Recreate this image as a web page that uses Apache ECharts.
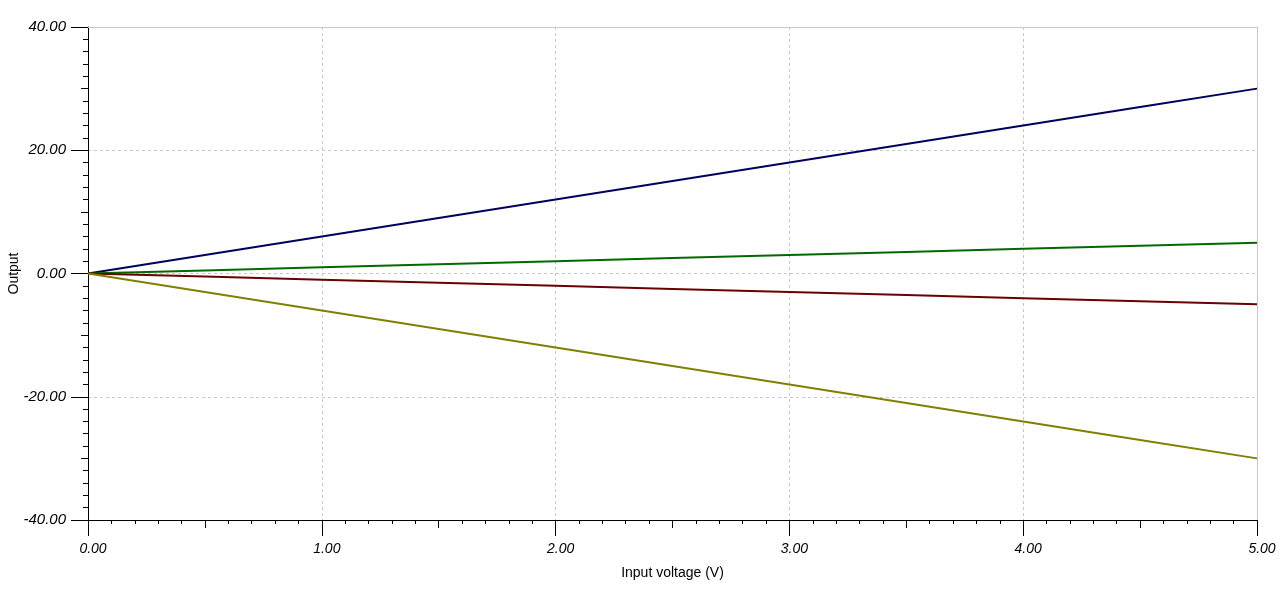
<!DOCTYPE html>
<html>
<head>
<meta charset="utf-8">
<script src="https://cdn.jsdelivr.net/npm/echarts@6/dist/echarts.min.js"></script>
<style>
    html, body { margin: 0; padding: 0; background: #fff; }
    #main { width: 1280px; height: 590px; }
</style>
</head>
<body>
<div id="main"></div>
<script>
// input voltage samples (V)
var inputVoltage = [0, 0.5, 1, 1.5, 2, 2.5, 3, 3.5, 4, 4.5, 5];

// outputs
var outBlue   = [0, 3, 6, 9, 12, 15, 18, 21, 24, 27, 30];
var outGreen  = [0, 0.5, 1, 1.5, 2, 2.5, 3, 3.5, 4, 4.5, 5];
var outRed    = [0, -0.5, -1, -1.5, -2, -2.5, -3, -3.5, -4, -4.5, -5];
var outOlive  = [0, -3, -6, -9, -12, -15, -18, -21, -24, -27, -30];

var xTicks = [0, 1, 2, 3, 4, 5];
var yTicks = [-40, -20, 0, 20, 40];

function pairs(ys) {
    var res = [];
    for (var i = 0; i < inputVoltage.length; i++) {
        res.push([inputVoltage[i], ys[i]]);
    }
    return res;
}

function line(name, ys, color) {
    return {
        name: name,
        type: 'line',
        data: pairs(ys),
        showSymbol: false,
        symbol: 'none',
        lineStyle: { color: color, width: 2 },
        xAxisIndex: 0,
        yAxisIndex: 0
    };
}

var labelFont = 'Liberation Sans, Arial, sans-serif';

var myChart = echarts.init(document.getElementById('main'));
var option = {
    animation: false,
    backgroundColor: '#fff',
    grid: { left: 88, right: 23, top: 27, bottom: 70, containLabel: false, outerBoundsMode: 'none' },
    xAxis: [
        {
            type: 'value',
            position: 'bottom',
            min: xTicks[0],
            max: xTicks[xTicks.length - 1],
            interval: 1,
            name: 'Input voltage (V)',
            nameLocation: 'middle',
            nameGap: 46,
            nameMoveOverlap: false,
            nameTextStyle: { color: '#000', fontSize: 14, fontFamily: labelFont },
            axisLine: { onZero: false, lineStyle: { color: '#000', width: 1 } },
            axisTick: { show: true, length: 16, lineStyle: { color: '#000' } },
            minorTick: { show: true, splitNumber: 10, length: 4, lineStyle: { color: '#000' } },
            splitLine: { show: true, lineStyle: { color: '#c8c8c8', type: [3, 3] } },
            axisLabel: {
                margin: 22,
                color: '#000',
                fontSize: 14,
                fontStyle: 'italic',
                fontFamily: labelFont,
                padding: [0, 0, 0, 10],
                formatter: function (v) { return v.toFixed(2); }
            }
        },
        {
            type: 'value',
            position: 'bottom',
            min: 0, max: 5, interval: 0.5,
            axisLine: { show: false, onZero: false },
            axisTick: { show: true, length: 8, lineStyle: { color: '#000' } },
            axisLabel: { show: false },
            splitLine: { show: false }
        },
        {
            type: 'value',
            position: 'top',
            min: 0, max: 5, interval: 1,
            axisLine: { show: true, onZero: false, lineStyle: { color: '#c8c8c8' } },
            axisTick: { show: false },
            axisLabel: { show: false },
            splitLine: { show: false }
        }
    ],
    yAxis: [
        {
            type: 'value',
            position: 'left',
            min: yTicks[0],
            max: yTicks[yTicks.length - 1],
            interval: 20,
            name: 'Output',
            nameLocation: 'middle',
            nameGap: 67,
            nameRotate: 90,
            nameMoveOverlap: false,
            nameTextStyle: { color: '#000', fontSize: 14, fontFamily: labelFont },
            axisLine: { show: true, onZero: false, lineStyle: { color: '#000', width: 1 } },
            axisTick: { show: true, length: 17, lineStyle: { color: '#000' } },
            minorTick: { show: true, splitNumber: 10, length: 5, lineStyle: { color: '#000' } },
            splitLine: { show: true, lineStyle: { color: '#c8c8c8', type: [3, 3] } },
            axisLabel: {
                margin: 22,
                color: '#000',
                fontSize: 15,
                fontStyle: 'italic',
                fontFamily: labelFont,
                formatter: function (v) { return v.toFixed(2); }
            }
        },
        {
            type: 'value',
            position: 'left',
            min: -40, max: 40, interval: 10,
            axisLine: { show: false, onZero: false },
            axisTick: { show: true, length: 7, lineStyle: { color: '#000' } },
            axisLabel: { show: false },
            splitLine: { show: false }
        },
        {
            type: 'value',
            position: 'right',
            min: -40, max: 40, interval: 20,
            axisLine: { show: true, onZero: false, lineStyle: { color: '#c8c8c8' } },
            axisTick: { show: false },
            axisLabel: { show: false },
            splitLine: { show: false }
        }
    ],
    series: [
        line('blue', outBlue, '#00005e'),
        line('green', outGreen, '#006a00'),
        line('red', outRed, '#6a0000'),
        line('olive', outOlive, '#808000')
    ]
};

myChart.setOption(option);
</script>
</body>
</html>
